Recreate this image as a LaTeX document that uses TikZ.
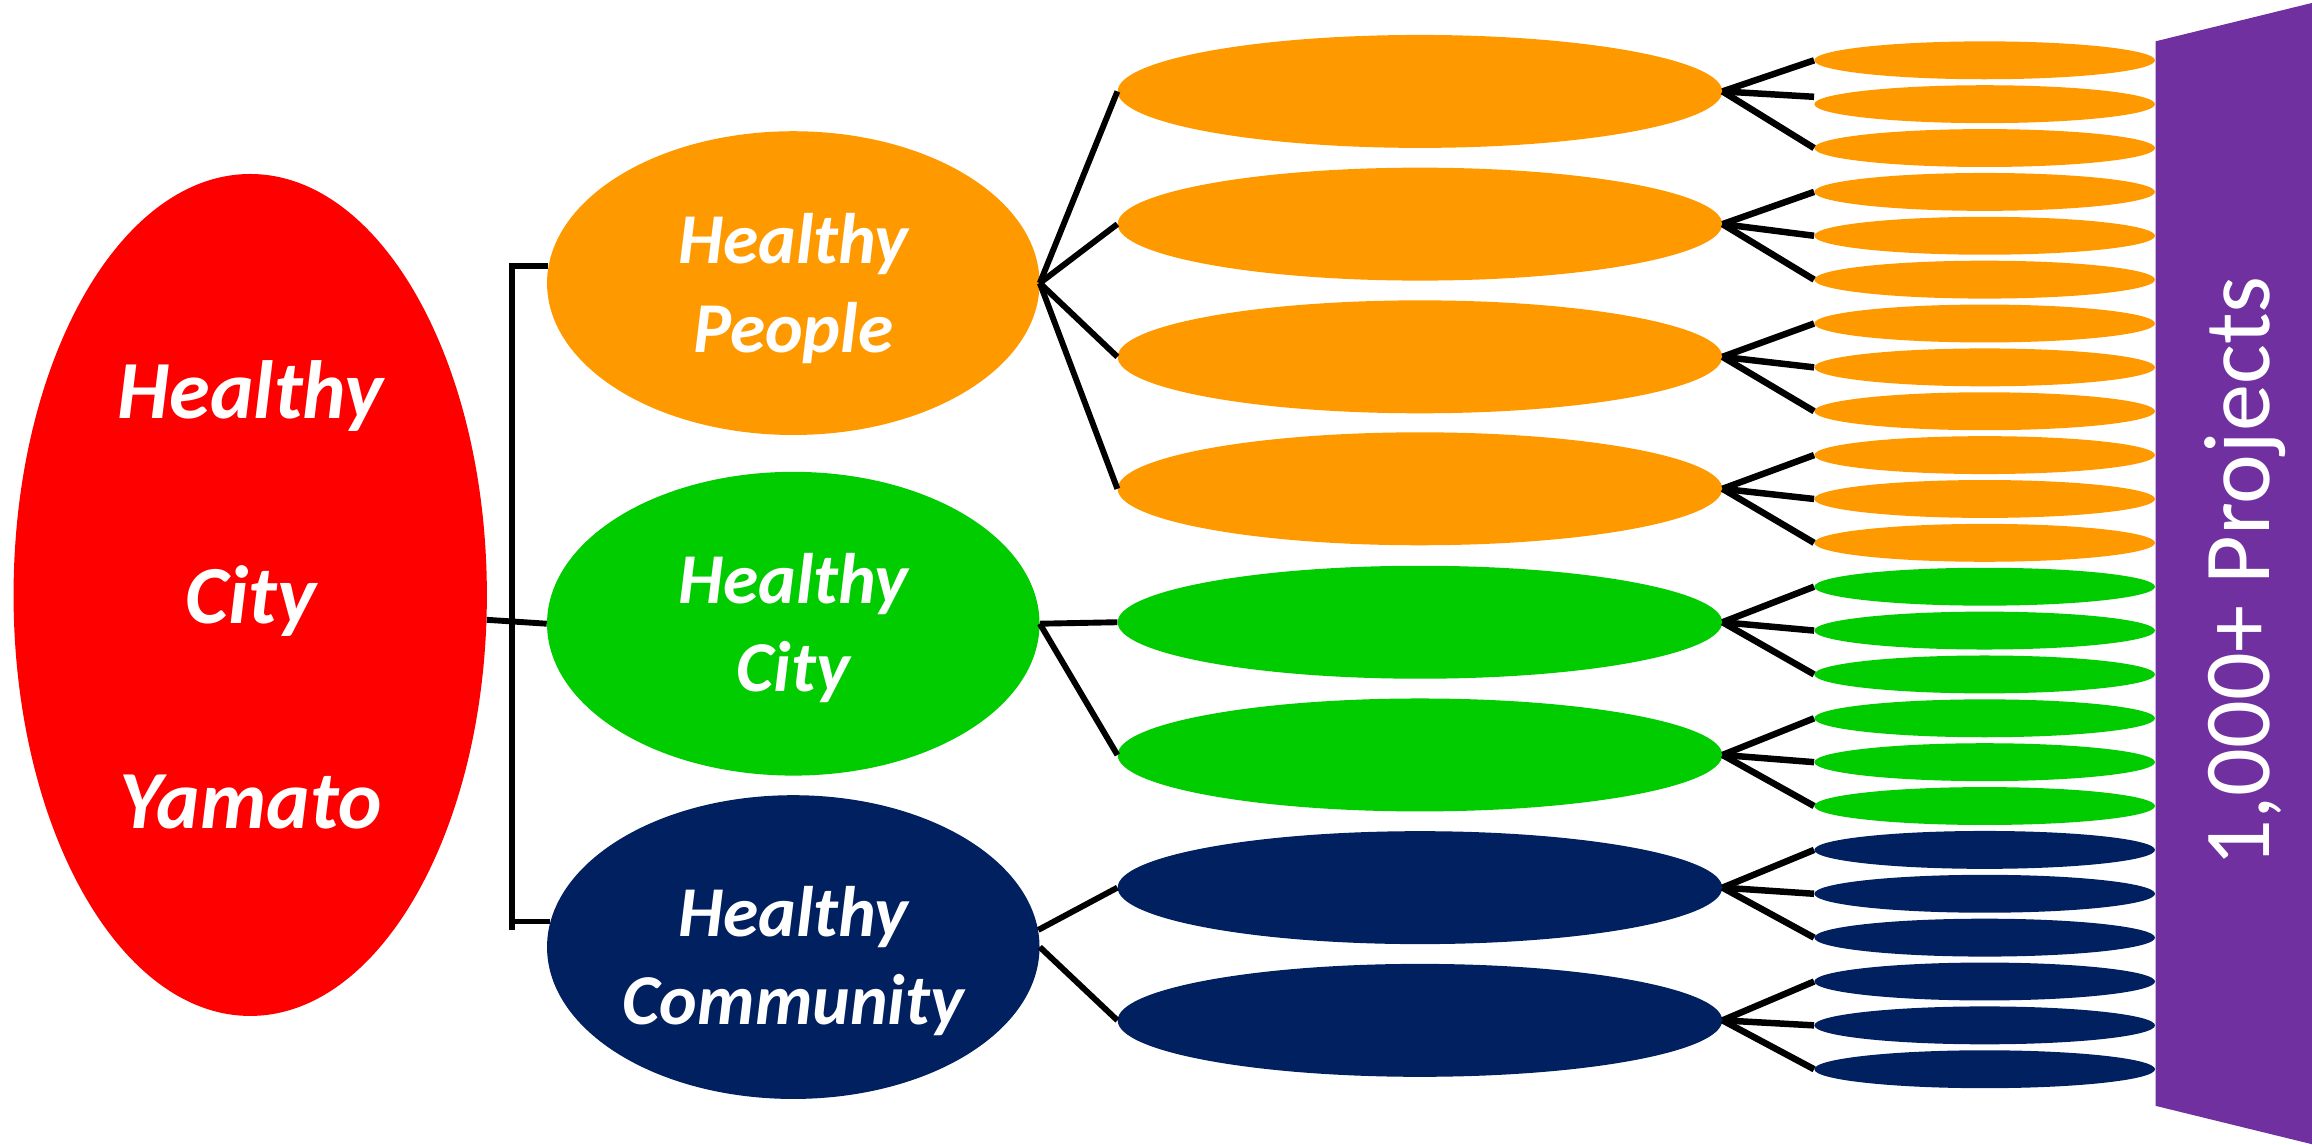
\documentclass[tikz,border=0pt]{standalone}
\usepackage{fontspec}
\setmainfont{Carlito}
\usetikzlibrary{shapes.geometric}
\definecolor{hcyred}{HTML}{FF0000}
\definecolor{hporange}{HTML}{FF9900}
\definecolor{hcgreen}{HTML}{00CC00}
\definecolor{hmnavy}{HTML}{002060}
\definecolor{projpurple}{HTML}{7030A0}
\begin{document}
\begin{tikzpicture}[x=1pt,y=-1pt,
  blob/.style={ellipse, inner sep=0pt, draw=none},
  pillar/.style={blob, minimum width=334pt, minimum height=206pt},
  theme/.style={blob, minimum width=410pt, minimum height=76.6pt},
  project/.style={blob, minimum width=231pt, minimum height=25.7pt},
  link/.style={draw=black, line width=4pt},
  leaflink/.style={draw=black, line width=4.4pt},
  title/.style={text=white, font=\fontsize{56}{60}\selectfont\bfseries\itshape, inner sep=0pt, anchor=base},
  caption/.style={text=white, font=\fontsize{48.5}{52}\selectfont\bfseries\itshape, inner sep=0pt, anchor=base},
]
% canvas
\fill[white] (0,0) rectangle (1568,776);
\useasboundingbox (0,0) rectangle (1568,776);

% purple banner on the right
\fill[projpurple] (1462,28) -- (1568,2) -- (1568,776) -- (1462,750) -- cycle;
\node[text=white, font=\fontsize{64}{70}\selectfont, rotate=90, anchor=base, inner sep=0pt] (proj) at (1539,388) {1,000+ Projects};

% root
\node[blob, fill=hcyred, minimum width=321pt, minimum height=571pt] (hcy) at (169.7,403.5) {};
\node[title] (hcy-1) at (170,284) {Healthy};
\node[title] (hcy-2) at (170,423) {City};
\node[title] (hcy-3) at (170,562) {Yamato};

% three pillars
\node[pillar, fill=hporange] (hp) at (538,192) {};
\node[pillar, fill=hcgreen] (hg) at (538,423) {};
\node[pillar, fill=hmnavy] (hm) at (538,642.3) {};
\node[caption] (hp-1) at (538,178.5) {Healthy};
\node[caption] (hp-2) at (538,239) {People};
\node[caption] (hg-1) at (538,409.3) {Healthy};
\node[caption] (hg-2) at (538,468.8) {City};
\node[caption] (hm-1) at (538,635) {Healthy};
\node[caption] (hm-2) at (538,694.6) {Community};

% bracket from the root to the pillars
\coordinate (busbot) at (347.5,631);
\draw[link] (hp.176.5) -| (busbot);
\draw[link] (hm.174.6) -- (hm.174.6 -| busbot);
\draw[link] (hcy.-6) -- (hg.west);

% themes
\foreach \i/\y/\c in {1/62/hporange, 2/152/hporange, 3/242/hporange, 4/331.5/hporange,
                      5/422/hcgreen, 6/512/hcgreen, 7/602/hmnavy, 8/692/hmnavy}
  \node[theme, fill=\c] (t\i) at (963,\y) {};

\foreach \i in {1,...,4} \draw[link] (hp.east) -- (t\i.west);
\draw[link] (hg.east) -- (t5.west);
\draw[link] (hg.east) -- (t6.west);
\draw[link] (hm.4.8) -- (t7.west);
\draw[link] (hm.-0.7) -- (t8.west);

% projects, three per theme
\foreach \i/\c in {1/hporange, 2/hporange, 3/hporange, 4/hporange,
                   5/hcgreen, 6/hcgreen, 7/hmnavy, 8/hmnavy} {
  \foreach \j in {0,1,2} {
    \pgfmathsetmacro\yy{40.9+29.75*(3*(\i-1)+\j)}
    \pgfmathsetmacro\lift{(\i==1 && \j==1) ? 5 : 0}
    \node[project, fill=\c] (p\i-\j) at (1346,\yy) {};
    \draw[leaflink] (t\i.east) -- ([yshift=\lift pt]p\i-\j.west);
  }
}
\end{tikzpicture}
\end{document}
